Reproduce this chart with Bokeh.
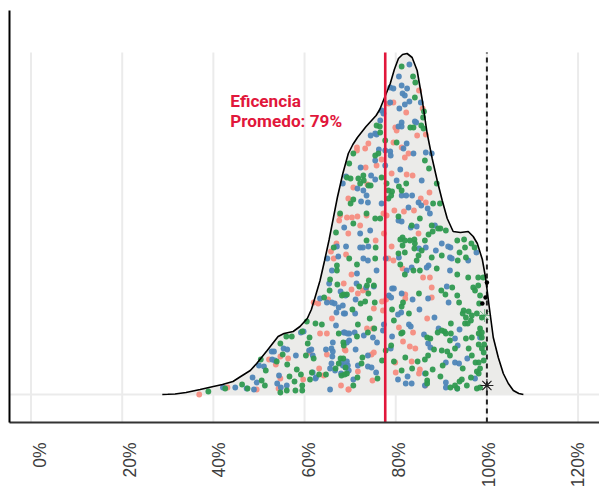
from bokeh.plotting import figure
from bokeh.models import ColumnDataSource, Range1d, LinearAxis, FixedTicker
from bokeh.core.properties import value
from bokeh.embed import file_html
from bokeh.resources import INLINE

# density curve: efficiency %, density (arbitrary units)
curve_x = [28.8,30,31.6,34,37.1,40,42,44.3,46,48.1,49.5,51.8,53,54.2,55.5,57.5,59,60.6,61.5,62.3,63.4,64.4,65.4,67.2,68.4,69.6,70.6,71.6,73.5,75.7,76.5,77.3,78.8,79.7,80.6,81.5,82.5,83.6,84.7,85.8,86.9,88,89.1,90.2,91.3,92.6,94.2,95.9,97,97.9,99,99.7,100.5,101.4,102.5,103.6,104.7,105.8,107,108]
curve_y = [0,0.2,0.5,2,5,8,10,13,18,24,31,44,51,58,61,63,68,76,85,97,114,134,155,197,221,241,250,257,268,279,285,294,311,325,336,340,341,337,324,295,261,236,214,194,176,163,162,163,158,151,135,117,88,57,37,21,11,4,1,0]

red_pts = [(36.9,0),(43.1,7),(49.5,5),(54.3,6),(54.7,16),(53.7,30),(52.2,35),(54.7,38),(56.4,36),(59.7,15),(62,92),(63,91),(65.2,95),(66,76),(63.4,61),(64.9,61),(61.1,42),(64.9,40),(69,44),(63.2,26),(64.2,19),(68,9),(69.6,5),(68.6,111),
(68.8,45),(71.7,101),(72.8,104),(73.5,105),(70.3,105),(75.2,86),(73.7,66),(75,66),(75.2,42),(74.7,40),(71.7,23),(74.9,14),(69.7,5),(77,93),(77.2,84),(77.9,95),(82.1,100),(82.1,96),(87.9,107),(87.9,97),(86.9,76),(80.7,67),(83.8,62),(81.6,53),(83.1,48),(84.3,46),(83.5,33),(79.9,32),(80,22),(85.3,25),(85.1,21),(86.5,9),
(78.4,291),(79.5,292),(85.1,304),(82.3,282),(85.9,286),(79.9,267),(80.2,264),(84.7,259),(86.6,260),(74,251),(73.3,246),(71.5,247),(71.5,244),(76.9,235),(75.8,229),(73.4,227),(79.5,252),(81.3,247),(82,237),(82.8,241),(83.7,219),(82.4,220),(79.1,221),(70.7,207),(69.6,196),(73.8,210),(87.4,202),(85.5,196),(86.6,192),(67.8,179),(69.3,177),(70.4,177),(71.6,178),(73.6,179),(67.6,174),(72.2,169),(79.7,184),(77.3,181),(78,179),(81.8,183),(84,184),(69.6,161),(75.6,154),(77.4,161),(79.1,148),(65.8,143),(69.1,140),(66.4,136),(79.5,134),(78.4,136),(70.3,120),(85,161),(81.5,126),(86,117),(87.5,117),(67,151)]

blue_pts = [(42.1,7),(44.8,7),(47.3,6),(48.9,5),(49.5,12),(48.6,17),(50,29),(51.1,28),(52.8,43),(53.3,43),(52.9,35),(53.5,34),(55.4,46),(56.2,45),(58.1,39),(54.4,19),(54,11),(54.8,7),(56.1,9),(59.2,62),(59.8,63),(61.5,45),(61,44),(61.8,39),(61.8,22),(62.5,17),(62.4,16),(65.6,5),(63.4,96),(64.9,92),(66,92),(66.6,91),(67.5,87),(67,82),(68.9,81),(66.9,69),(68.8,62),(69.8,61),(66.2,52),(69.3,52),(64.7,45),(65.9,46),(66.2,43),(66.1,38),(65.9,31),(65.6,26),(66.7,24),(68.2,32),(69.3,33),(69.5,29),(67.9,103),(69,99),(65.4,111),
(68.4,89),(68.6,81),(71.2,95),(75.2,108),(73.5,107),(71.4,111),(71.1,81),(68.6,62),(69.4,61),(71,62),(69.8,54),(73,59),(75,57),(75.9,52),(71.2,45),(73.9,39),(68.4,29),(69,27),(69.7,24),(68,21),(71.7,29),(70.7,15),(73.9,28),(74.7,27),(75.7,22),(77.4,70),(77.2,64),(79.2,106),(79.6,106),(78.5,99),(79,97),(81.3,101),(83.7,95),(85.2,85),(87.1,96),(81.2,82),(80.5,80),(88.5,77),(91.6,92),(91.2,108),(82.9,70),(83.3,68),(79.2,58),(86.2,60),(89.4,66),(94,65),(93,56),(87.1,51),(87.6,47),(93.6,49),(78.9,46),(91,32),(93,32),(93.9,31),(95.7,36),(80.5,15),(82.6,18),(82.2,11),(83.5,11),(86.4,9),(91,12),(91,7),(93.5,6),(97.4,16),(98.5,57),(86.4,21),
(83,330),(80.7,318),(81.3,309),(79.5,306),(78.8,307),(81.5,301),(82,299),(82.5,306),(83,293),(85.5,292),(82,290),(80.8,286),(78.8,292),(76.9,284),(77.3,281),(81.3,272),(80.6,268),(81.3,268),(84.2,273),(84.5,272),(76.6,274),(75.5,261),(74.5,259),(75.8,260),(82.4,251),(76.3,245),(77.7,244),(78.8,243),(78.9,239),(81.7,246),(83.9,241),(87.9,241),(86.6,242),(77.7,229),(81,225),(75.5,234),(72.3,227),(69.1,218),(68.4,211),(74.6,219),(75.5,215),(72.9,204),(73.6,199),(72.4,193),(73.9,192),(71.6,206),(76.9,191),(80.2,214),(85.7,214),(81.3,199),(82.3,199),(83.6,199),(85,192),(85.6,189),(82.8,187),(87,186),(87.5,181),(80.6,174),(81.3,173),(83.3,167),(84.6,168),(74.4,164),(72.2,161),(68.7,167),(88.6,169),(86.6,147),(88.8,144),(90.1,151),(91.5,148),(92,147),(91.9,137),(92.3,136),(95.9,134),(97.7,142),(91.9,124),(87.2,129),(83.5,127),(82.4,124),(67.1,148),(69.1,148),(72.2,147),(72.8,147),(74,148),(65,136),(67.4,138),(72.9,136),(73.9,134),(66,124),(75.8,124),(71.5,121),(80.7,137),(77.8,136),(85.1,146),(86.8,127)]

green_pts = [(38.9,3),(42.6,6),(46.3,10),(47.5,6),(50.6,14),(51.3,9),(51.5,24),(50.4,35),(54.7,51),(56,58),(57.2,58),(60.5,73),(59.5,63),(62.4,71),(63.8,70),(61.1,57),(60.7,51),(60.3,39),(62,36),(55.2,40),(53.9,33),(56.2,30),(58.3,25),(59.2,20),(56.7,18),(57.8,13),(56.1,4),(58,4),(59.5,9),(59.5,4),(54.7,2),(61.2,15),(61.6,22),(63.2,20),(64.7,20),(66.8,26),(68.1,19),(69.3,21),(68.5,36),(67.5,61),(64.3,97),(65.5,104),(68.2,99),(69.3,100),(67.2,110),
(68.6,100),(72,108),(73.7,109),(75.2,109),(74,101),(72.3,91),(73.3,93),(75.4,92),(70.5,85),(74.3,76),(71.7,70),(75.3,66),(73.9,62),(71.5,58),(68.5,52),(68.6,49),(77.8,44),(72.7,37),(72.5,31),(67.9,36),(67.5,31),(68.8,20),(71.6,17),(76,16),(70.7,9),(69,27),(77,34),(79,49),(79.6,74),(81.3,88),(81.6,92),(82.9,81),(79.2,85),(85.1,101),(90,104),(90.9,100),(93.5,99),(93.9,92),(92.4,107),(81.2,61),(81.5,62),(82.1,37),(79.6,33),(83.6,26),(84.8,33),(81.3,24),(86.6,21),(86.9,14),(86.9,11),(88.1,25),(86.9,57),(87.6,56),(89.2,62),(90.1,64),(90.7,63),(91,61),(92.1,71),(92.1,61),(91.9,54),(88.4,45),(90.1,44),(87.1,39),(86.4,35),(91.3,43),(91.9,39),(90.3,29),(93,46),(94.7,26),(94.5,15),(94,13),(89.8,18),(92,7),(93,9),(93.5,6),
(94.9,84),(94.7,81),(95.4,77),(96,83),(96.7,79),(97.8,81),(97,107),(97.4,104),(98.1,109),(98.5,99),(98.3,91),(95.2,71),(95.8,71),(96.5,74),(95.4,56),(96.7,57),(98.5,66),(98.9,62),(98.2,61),(98.9,57),(96,46),(98.2,50),(99.4,50),(98.9,46),(99.3,42),(96.7,39),(98.2,32),(97.5,32),(99.3,34),(98.5,26),(97.8,23),(98.2,21),(96.5,17),(95.6,9),(98.5,7),(97.8,6),(98.9,77),
(81.3,328),(83.8,318),(84.3,312),(84.2,297),(86.2,283),(86,277),(75.8,269),(76.5,268),(76.6,262),(77.7,254),(85.6,269),(86.1,266),(83.2,267),(83.9,267),(80.2,252),(75.5,239),(76.2,241),(70.7,241),(86.4,234),(87.3,226),(69.8,231),(69.3,217),(70.1,216),(71.8,216),(72.9,219),(73,214),(72.2,211),(74,209),(74.5,209),(76.9,217),(78,211),(78.4,204),(79.2,203),(79,199),(78.4,196),(80.7,208),(82.3,211),(81.3,204),(89,211),(70.7,195),(70.1,191),(67.8,181),(73.6,181),(75.5,176),(76.6,176),(70.7,171),(66.9,162),(80.6,178),(85.3,176),(88.2,191),(89.7,191),(87.9,169),(88.1,163),(89.3,166),(89.8,166),(91,164),(87.2,160),(83.5,169),(81.5,157),(81,155),(82,154),(83.1,154),(84.1,155),(84.2,151),(86.4,154),(81.5,149),(82,142),(84.1,146),(85.7,144),(87.9,137),(90.1,139),(93.5,154),(95,155),(95.2,147),(96.6,151),(97.3,147),(94,142),(93.6,134),(95.4,137),(84.6,134),(85,139),(89,126),(85.3,124),(93.5,120),(95.9,117),(98.1,117),(99.2,117),(83.9,124),(80.6,141),(81,130),(82,120),(73.6,154),(67.1,129),(66.4,147),(69.8,136),(71.5,130),(75.5,136),(67.1,124),(74.1,114),(65.6,115),(75.6,147)]

outlier_x = [100, 99.7, 99, 100]
outlier_y = [112, 97, 91, 9]
faint_star_x = [99.5]
faint_star_y = [79]
grid_ticks = [0, 20, 40, 60, 80, 100, 120]
tick_labels = ["0%", "20%", "40%", "60%", "80%", "100%", "120%"]
mean_eff = 77.7
grid_top = 342
annot = ["Eficencia", "Promedo: 79%"]
annot_y = [293.5, 274]

p = figure(width=599, height=486, output_backend="svg", toolbar_location=None,
           x_range=Range1d(-4.72, 124.7), y_range=Range1d(-28, 384),
           frame_width=590, frame_height=412,
           min_border_left=9, min_border_right=0, min_border_top=10, min_border_bottom=0,
           background_fill_color="white", border_fill_color=None)
p.outline_line_color = None
p.grid.visible = False
p.xaxis.visible = False

p.yaxis.ticker = FixedTicker(ticks=[])
p.yaxis.axis_line_color = "black"
p.yaxis.axis_line_width = 2
p.yaxis.major_tick_line_color = None
p.yaxis.minor_tick_line_color = None
p.yaxis.major_label_text_font_size = "0px"

p.extra_x_ranges["lab"] = Range1d((9.5 - 40) / 4.483, (599 - 40) / 4.483)
ax = LinearAxis(x_range_name="lab", ticker=FixedTicker(ticks=grid_ticks),
                major_label_overrides=dict(zip(grid_ticks, tick_labels)),
                major_label_orientation=1.5707963,
                major_label_text_font="Liberation Sans", major_label_text_font_size="17.5px",
                major_label_text_color="#3d3d3d", major_label_standoff=14,
                axis_line_color="#333333", axis_line_width=2,
                major_tick_line_color=None, minor_tick_line_color=None)
p.add_layout(ax, "below")

gc = "#EBEBEB"
p.segment(grid_ticks, [-28]*7, grid_ticks, [grid_top]*7, line_color=gc, line_width=2)
p.segment([-4.72], [0], [124.7], [0], line_color=gc, line_width=2)

p.patch(curve_x, curve_y, fill_color="#EBEBE9", fill_alpha=1, line_color=None)
p.segment([100], [-28], [100], [grid_top], line_color="#222222", line_width=2, line_dash="5 4")

for pts, col in ((red_pts, "#F68D81"), (blue_pts, "#4F86B8"), (green_pts, "#2F9A50")):
    xs, ys = zip(*pts)
    p.scatter(list(xs), list(ys), size=5.8, fill_color=col, line_color=None, fill_alpha=0.95)

p.scatter(outlier_x[:3], outlier_y[:3], size=4.5, fill_color="black", line_color=None)
p.scatter(faint_star_x, faint_star_y, marker="asterisk", size=13, line_color="#2F9A50", line_width=1, line_alpha=0.6)
p.scatter(outlier_x[3:], outlier_y[3:], marker="asterisk", size=13, line_color="#222222", line_width=1.1)
p.scatter(outlier_x[3:], outlier_y[3:], marker="x", size=9, line_color="#222222", line_width=1)
p.line(curve_x, curve_y, line_color="black", line_width=1.6)

p.segment([mean_eff], [-28], [mean_eff], [grid_top], line_color="#E1173B", line_width=2.6)

p.text([43.7, 43.7], annot_y, text=annot, text_font=value("Roboto"), text_font_style="bold",
       text_font_size="17.2px", text_color="#E1173B", text_baseline="middle", text_align="left")

open("out.html", "w").write(file_html(p, INLINE))
